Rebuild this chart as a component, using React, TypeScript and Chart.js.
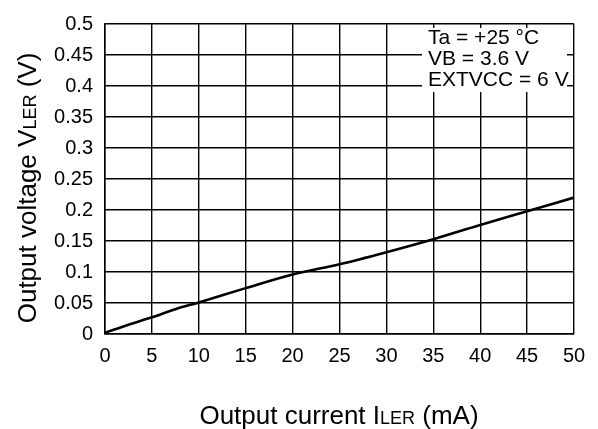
import React, { useEffect, useRef } from "react";
import { Chart, registerables } from "chart.js";

Chart.register(...registerables);

const currentMA = [0, 2.5, 5, 7.5, 10, 15, 20, 25, 30, 35, 40, 45, 50];
const voltageV = [0.002, 0.015, 0.027, 0.04, 0.051, 0.074, 0.096, 0.1125, 0.132, 0.153, 0.176, 0.198, 0.22];
const conditionLines = ["Ta = +25 °C", "VB = 3.6 V", "EXTVCC = 6 V"];
const yTitleMain = "Output voltage V";
const xTitleMain = "Output current I";
const titleSub = "LER";
const xTitleTail = " (mA)";
const yTitleTail = " (V)";

const FONT = "'Liberation Sans', Arial, sans-serif";

const overlayPlugin = {
  id: "overlay",
  afterDraw(chart: any) {
    const { ctx, chartArea } = chart;
    ctx.save();
    // condition box
    ctx.font = `21px ${FONT}`;
    const boxLeft = chartArea.right - 152;
    ctx.fillStyle = "#fff";
    ctx.fillRect(boxLeft, 28, 145, 64);
    ctx.fillStyle = "#000";
    ctx.textBaseline = "middle";
    ctx.textAlign = "left";
    conditionLines.forEach((t, i) => {
      ctx.fillText(t, boxLeft + 6, 38 + i * 21);
    });

    const big = `26px ${FONT}`;
    const small = `18px ${FONT}`;
    // x title
    ctx.font = big;
    const w1 = ctx.measureText(xTitleMain).width;
    const w3 = ctx.measureText(xTitleTail).width;
    ctx.font = small;
    const w2 = ctx.measureText(titleSub).width;
    const total = w1 + w2 + w3;
    const x = 339 - total / 2;
    const y = 424;
    ctx.textBaseline = "alphabetic";
    ctx.font = big;
    ctx.fillText(xTitleMain, x, y);
    ctx.font = small;
    ctx.fillText(titleSub, x + w1, y);
    ctx.font = big;
    ctx.fillText(xTitleTail, x + w1 + w2, y);

    // y title
    ctx.translate(36, 188);
    ctx.rotate(-Math.PI / 2);
    ctx.font = big;
    const a1 = ctx.measureText(yTitleMain).width;
    const a3 = ctx.measureText(yTitleTail).width;
    ctx.font = small;
    const a2 = ctx.measureText(titleSub).width;
    const tot = a1 + a2 + a3;
    const sx = -tot / 2;
    ctx.font = big;
    ctx.fillText(yTitleMain, sx, 0);
    ctx.font = small;
    ctx.fillText(titleSub, sx + a1, 0);
    ctx.font = big;
    ctx.fillText(yTitleTail, sx + a1 + a2, 0);
    ctx.restore();
  },
};

export default function App() {
  const ref = useRef<HTMLCanvasElement>(null);
  useEffect(() => {
    const chart = new Chart(ref.current!, {
      type: "line",
      data: {
        datasets: [
          {
            data: currentMA.map((c, i) => ({ x: c, y: voltageV[i] })),
            borderColor: "#000",
            borderWidth: 2.6,
            pointRadius: 0,
            tension: 0.4,
            cubicInterpolationMode: "monotone",
            fill: false,
          },
        ],
      },
      options: {
        animation: false,
        responsive: false,
        events: [],
        layout: { padding: { left: 0, right: 24, top: 19, bottom: 0 } },
        plugins: { legend: { display: false }, tooltip: { enabled: false } },
        scales: {
          x: {
            type: "linear",
            min: 0,
            max: 50,
            afterFit: (s: any) => {
              s.height = 95;
            },
            ticks: {
              stepSize: 5,
              color: "#000",
              font: { family: FONT, size: 20 },
              padding: 10,
              maxRotation: 0,
            },
            grid: { color: "#000", lineWidth: 1.4, drawTicks: false },
            border: { color: "#000", width: 1.5 },
          },
          y: {
            min: 0,
            max: 0.5,
            afterFit: (s: any) => {
              s.width = 105;
            },
            ticks: {
              stepSize: 0.05,
              color: "#000",
              font: { family: FONT, size: 20 },
              padding: 12,
              callback: (v: any) => String(Math.round(Number(v) * 100) / 100),
            },
            grid: { color: "#000", lineWidth: 1.4, drawTicks: false },
            border: { color: "#000", width: 1.5 },
          },
        },
      },
      plugins: [overlayPlugin],
    } as any);
    return () => chart.destroy();
  }, []);
  return (
    <div style={{ position: "fixed", left: 0, top: 0, width: 598, height: 429, background: "#fff" }}>
      <canvas ref={ref} width={598} height={429} style={{ display: "block" }} />
    </div>
  );
}
